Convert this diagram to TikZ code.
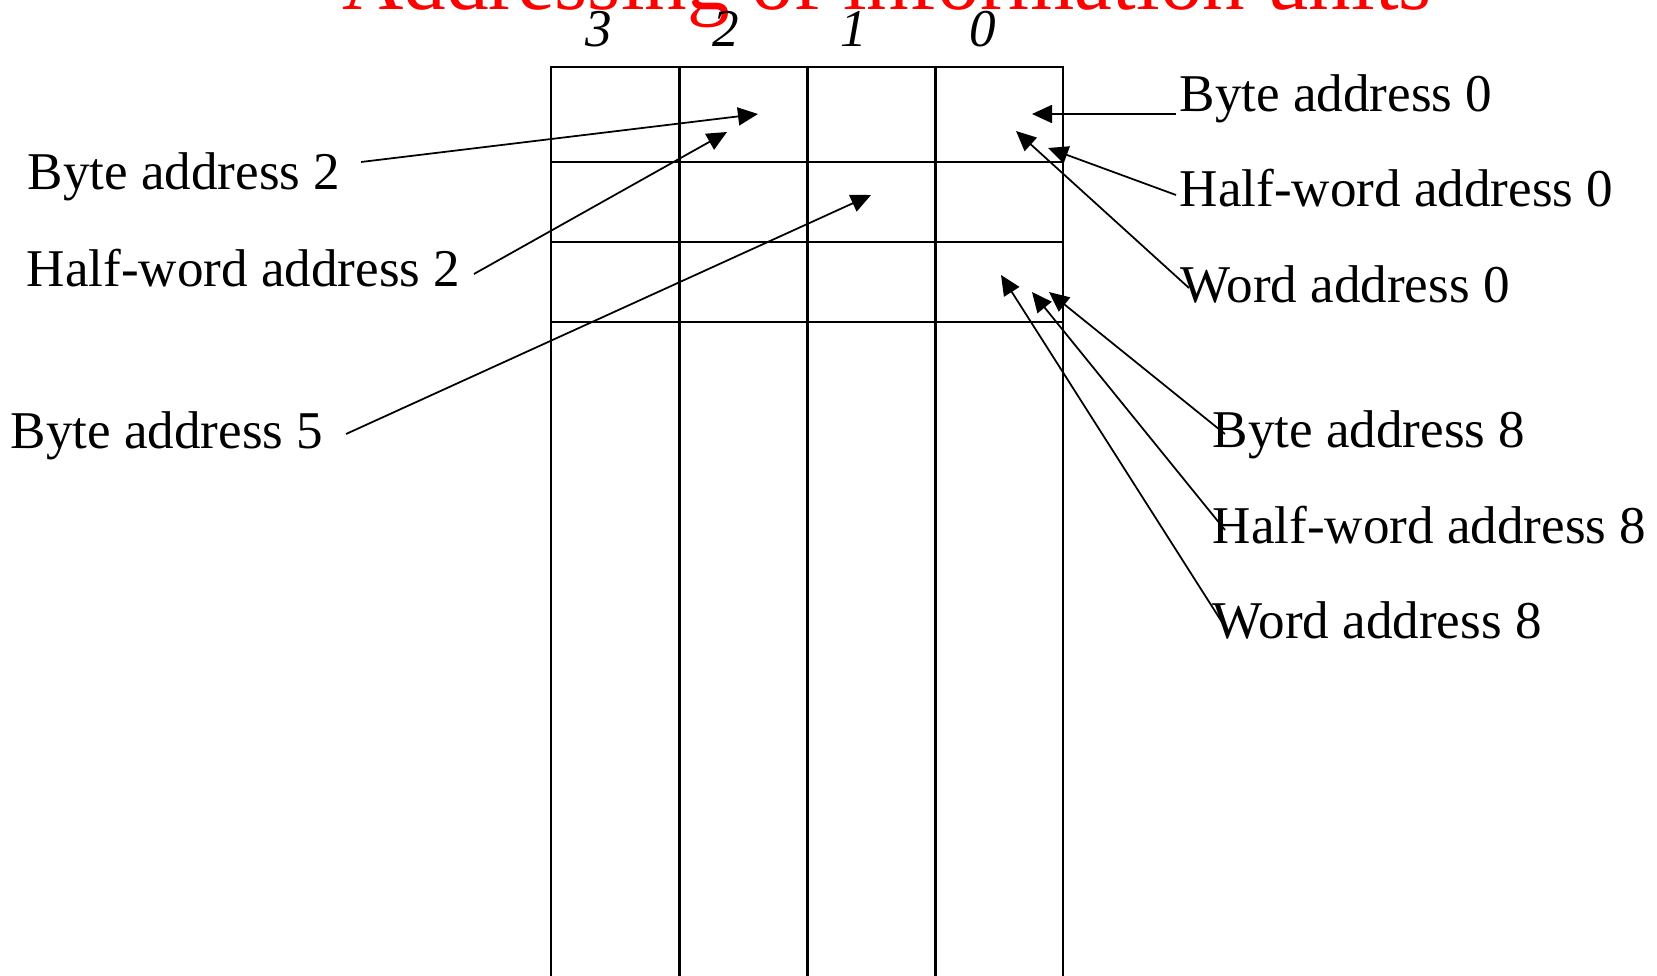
\documentclass[tikz,border=0pt]{standalone}
\usepackage{fontspec}
\setmainfont{Liberation Serif}
\usetikzlibrary{arrows.meta}
\tikzset{
	lbl/.style={inner sep=0pt, anchor=base west, font=\fontsize{15.1}{18}\selectfont},
	digit/.style={inner sep=0pt, anchor=base, font=\fontsize{15.1}{18}\selectfont\itshape},
	cell/.style={line width=0.6pt},
	arr/.style={line width=0.5pt, -{Triangle[length=2mm,width=1.8mm]}},
}
\begin{document}
\begin{tikzpicture}[x=0.01cm,y=-0.01cm]
	\useasboundingbox (0,0) rectangle (1657,976);
	% title, cut at the top
	\node[anchor=base, inner sep=0pt, text=red, font=\fontsize{24.2}{29}\selectfont] (title) at (887,10) {Addressing of information units};
	% memory words
	\draw[cell] (551,990) -- (551,67) -- (1063,67) -- (1063,990);
	\foreach \x in {679.5,807.5,935.5} \draw[cell] (\x,67) -- (\x,990);
	\foreach \y in {162,242,322} \draw[cell] (551,\y) -- (1063,\y);
	\foreach \n/\x in {3/599,2/726,1/854,0/983} \node[digit] (col\n) at (\x,47) {\n};
	% arrow ends inside the cells
	\coordinate (tb0) at (1032,114);
	\coordinate (thw0) at (1048,148);
	\coordinate (tw0) at (1016,131);
	\coordinate (tb2) at (758,114);
	\coordinate (thw2) at (727,132);
	\coordinate (tb5) at (871,195);
	\coordinate (tb8) at (1049,292);
	\coordinate (thw8) at (1032,292);
	\coordinate (tw8) at (1001,275);
	% labels
	\node[lbl] (b0) at (1179,112) {Byte address 0};
	\node[lbl] (hw0) at (1179,207) {Half-word address 0};
	\node[lbl] (w0) at (1180,302) {Word address 0};
	\node[lbl] (b2) at (27,190) {Byte address 2};
	\node[lbl] (hw2) at (26,287) {Half-word address 2};
	\node[lbl] (b5) at (10,448) {Byte address 5};
	\node[lbl] (b8) at (1212,447) {Byte address 8};
	\node[lbl] (hw8) at (1212,543) {Half-word address 8};
	\node[lbl] (w8) at (1212,638) {Word address 8};
	% pointers
	\draw[arr] ([shift={(-3,2)}]b0.base west) -- (tb0);
	\draw[arr] ([shift={(-3,-12)}]hw0.base west) -- (thw0);
	\draw[arr] ([shift={(9,-14)}]w0.base west) -- (tw0);
	\draw[arr] ([shift={(20,-28)}]b2.base east) -- (tb2);
	\draw[arr] ([shift={(13,-13)}]hw2.base east) -- (thw2);
	\draw[arr] ([shift={(22,-14)}]b5.base east) -- (tb5);
	\draw[arr] ([shift={(13,-13)}]b8.base west) -- (tb8);
	\draw[arr] ([shift={(13,-13)}]hw8.base west) -- (thw8);
	\draw[arr] ([shift={(15,-8)}]w8.base west) -- (tw8);
\end{tikzpicture}
\end{document}
